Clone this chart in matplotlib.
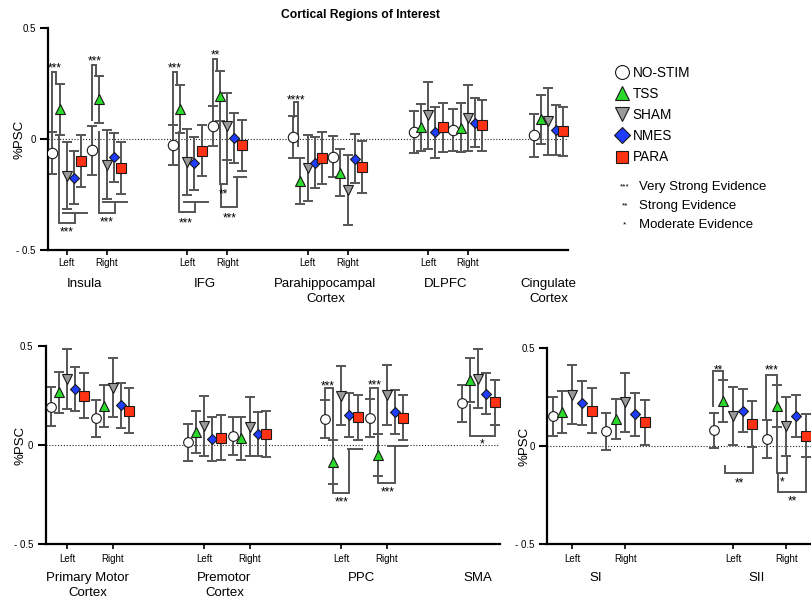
import matplotlib
matplotlib.use('Agg')
import matplotlib.pyplot as plt
from matplotlib.lines import Line2D

plt.rcParams['font.family'] = ['Liberation Sans', 'DejaVu Sans']

CONDITIONS = ['NO-STIM', 'TSS', 'SHAM', 'NMES', 'PARA']
MARKERS = ['o', '^', 'v', 'D', 's']
FACE = ['white', '#2bd92b', '#9a9a9a', '#1f3cff', '#ff3214']
MSIZE = [7.5, 7.7, 7.7, 5.2, 7.3]
LEG_MSIZE = [10, 10, 9.5, 8.5, 9]
ERR_COLOR = '#555555'

REGION_STEP = 16.6
HEMI_STEP = 5.5
FIRST = 2.6

# ---- top panel: Insula, IFG, Parahippocampal, DLPFC (L/R) + Cingulate
top_regions = ['Insula', 'IFG', 'Parahippocampal\nCortex', 'DLPFC', 'Cingulate\nCortex']
top_slots = [(0, 0), (0, 1), (1, 0), (1, 1), (2, 0), (2, 1), (3, 0), (3, 1), (4, 0)]
top_mean = [
    [-0.063, -0.051, -0.029, 0.057, 0.009, -0.079, 0.032, 0.042, 0.017],   # NO-STIM
    [0.133, 0.178, 0.136, 0.193, -0.189, -0.151, 0.053, 0.050, 0.088],     # TSS
    [-0.165, -0.116, -0.104, 0.057, -0.131, -0.230, 0.107, 0.095, 0.080],  # SHAM
    [-0.174, -0.083, -0.109, 0.005, -0.106, -0.089, 0.030, 0.073, 0.042],  # NMES
    [-0.100, -0.131, -0.053, -0.029, -0.086, -0.127, 0.053, 0.062, 0.035], # PARA
]
top_err = [
    [0.095, 0.110, 0.090, 0.090, 0.093, 0.093, 0.094, 0.094, 0.097],
    [0.113, 0.108, 0.108, 0.113, 0.104, 0.106, 0.105, 0.110, 0.110],
    [0.152, 0.155, 0.150, 0.150, 0.150, 0.157, 0.150, 0.148, 0.150],
    [0.120, 0.112, 0.120, 0.112, 0.113, 0.110, 0.115, 0.110, 0.113],
    [0.118, 0.118, 0.115, 0.116, 0.116, 0.116, 0.110, 0.115, 0.110],
]
# (group, bracket path [(column, y)], extra bar or None, stars, star column, star y)
top_sig = [
    (0, [(0, 0.034), (0, 0.30), (0.55, 0.30), (0.55, 0.246)], None, '***', 0.3, 0.335),
    (0, [(0.9, 0.02), (0.9, -0.377), (3.1, -0.377), (3.1, -0.334)], [(1.5, -0.334), (4.8, -0.334)], '***', 2.0, -0.406),
    (1, [(0, 0.087), (0, 0.332), (0.55, 0.332), (0.55, 0.286)], None, '***', 0.3, 0.365),
    (1, [(0.9, 0.03), (0.9, -0.334), (3.1, -0.334), (3.1, -0.284)], [(1.5, -0.284), (4.8, -0.284)], '***', 2.0, -0.36),
    (2, [(0, 0.06), (0, 0.30), (0.55, 0.30), (0.55, 0.245)], None, '***', 0.3, 0.335),
    (2, [(0.9, 0.03), (0.9, -0.327), (3.1, -0.327), (3.1, -0.285)], [(1.5, -0.285), (4.8, -0.285)], '***', 1.8, -0.365),
    (3, [(0, 0.148), (0, 0.362), (0.55, 0.362), (0.55, 0.306)], None, '**', 0.4, 0.39),
    (3, [(1, 0.08), (1, -0.203), (2, -0.203), (2, -0.10)], None, '**', 1.5, -0.235),
    (3, [(1.2, -0.203), (1.2, -0.305), (3.4, -0.305), (3.4, -0.17)], [(2.9, -0.17), (4.6, -0.17)], '***', 2.4, -0.34),
    (4, [(0.1, 0.10), (0.1, 0.166), (0.65, 0.166), (0.65, -0.03)], None, '****', 0.35, 0.19),
]

# ---- bottom left: Primary Motor, Premotor, PPC (L/R) + SMA
bl_regions = ['Primary Motor\nCortex', 'Premotor\nCortex', 'PPC', 'SMA']
bl_slots = [(0, 0), (0, 1), (1, 0), (1, 1), (2, 0), (2, 1), (3, 0)]
bl_mean = [
    [0.194, 0.135, 0.013, 0.046, 0.132, 0.138, 0.210],
    [0.266, 0.197, 0.065, 0.034, -0.087, -0.050, 0.328],
    [0.334, 0.290, 0.097, 0.093, 0.249, 0.252, 0.336],
    [0.283, 0.200, 0.031, 0.056, 0.151, 0.168, 0.260],
    [0.250, 0.174, 0.038, 0.056, 0.140, 0.138, 0.215],
]
bl_err = [
    [0.100, 0.092, 0.095, 0.095, 0.094, 0.095, 0.095],
    [0.105, 0.107, 0.105, 0.108, 0.110, 0.105, 0.110],
    [0.150, 0.150, 0.150, 0.150, 0.150, 0.150, 0.150],
    [0.110, 0.115, 0.110, 0.113, 0.110, 0.110, 0.105],
    [0.115, 0.115, 0.115, 0.115, 0.115, 0.115, 0.115],
]
bl_sig = [
    (4, [(0, 0.228), (0, 0.287), (1, 0.287), (1, 0.03)], None, '***', 0.4, 0.312),
    (4, [(1, -0.197), (1, -0.243), (3, -0.243), (3, -0.018)], [(2.8, -0.018), (4.5, -0.018)], '***', 2.0, -0.272),
    (5, [(0, 0.236), (0, 0.29), (1, 0.29), (1, 0.055)], None, '***', 0.5, 0.32),
    (5, [(1, -0.155), (1, -0.192), (3, -0.192), (3, -0.007)], [(2.2, -0.007), (4.5, -0.007)], '***', 2.1, -0.222),
    (6, [(1, 0.20), (1, 0.045), (4, 0.045), (4, 0.09)], None, '*', 2.5, 0.02),
]

# ---- bottom right: SI, SII (L/R)
br_regions = ['SI', 'SII']
br_slots = [(0, 0), (0, 1), (1, 0), (1, 1)]
br_mean = [
    [0.151, 0.075, 0.080, 0.036],
    [0.172, 0.138, 0.231, 0.206],
    [0.262, 0.223, 0.151, 0.100],
    [0.219, 0.163, 0.180, 0.151],
    [0.180, 0.121, 0.112, 0.053],
]
br_err = [
    [0.100, 0.095, 0.090, 0.096],
    [0.107, 0.103, 0.108, 0.107],
    [0.150, 0.150, 0.148, 0.150],
    [0.113, 0.110, 0.110, 0.107],
    [0.116, 0.115, 0.117, 0.110],
]
br_sig = [
    (2, [(-0.1, 0.202), (-0.1, 0.384), (1, 0.384), (1, 0.34)], None, '**', 0.45, 0.405),
    (2, [(1.2, -0.104), (1.2, -0.14), (4.1, -0.14), (4.1, 0.0)], None, '**', 2.65, -0.172),
    (3, [(-0.1, 0.134), (-0.1, 0.364), (1, 0.364), (1, 0.321)], None, '***', 0.5, 0.405),
    (3, [(1, 0.10), (1, -0.138), (2.1, -0.138), (2.1, -0.06)], None, '*', 1.6, -0.167),
    (3, [(1.1, -0.138), (1.1, -0.233), (4, -0.233), (4, -0.06)], None, '**', 2.6, -0.265),
]

evidence = ['***', '**', '*']
evidence_text = ['Very Strong Evidence', 'Strong Evidence', 'Moderate Evidence']

fig = plt.figure(figsize=(8.12, 6.04), dpi=100)


def draw_panel(rect, xmax, regions, slots, mean, err, sig, ms_scale, ylab_x, name_off, line_sp, xpad):
    ax = fig.add_axes(rect)
    pos = [FIRST + r * REGION_STEP + h * HEMI_STEP for r, h in slots]
    ax.axhline(0, color='#222222', lw=0.8, ls=(0, (1, 1.6)), zorder=0)

    for k in range(len(CONDITIONS)):
        xs = [p + (k - 2) for p in pos]
        ax.errorbar(xs, mean[k], yerr=err[k], fmt='none', ecolor=ERR_COLOR,
                    elinewidth=1.4, capsize=3.3, capthick=1.4, zorder=2)
    for k in range(len(CONDITIONS)):
        xs = [p + (k - 2) for p in pos]
        ax.plot(xs, mean[k], ls='none', marker=MARKERS[k], ms=MSIZE[k] * ms_scale,
                mfc=FACE[k], mec='#1a1a1a', mew=0.8, zorder=4)

    for g, pts, extra, stars, sc, sy in sig:
        ax.plot([pos[g] + c - 2 for c, y in pts], [y for c, y in pts],
                color=ERR_COLOR, lw=1.4, zorder=1, solid_joinstyle='miter')
        if extra is not None:
            ax.plot([pos[g] + c - 2 for c, y in extra], [y for c, y in extra],
                    color=ERR_COLOR, lw=1.4, zorder=1)
        ax.annotate(stars, (pos[g] + sc - 2, sy), xytext=(0, -2.5), textcoords='offset points',
                    ha='center', va='center', fontsize=8.5)

    # hemisphere ticks and region names
    ticks, tick_labels = [], []
    for r, name in enumerate(regions):
        idx = [i for i, s in enumerate(slots) if s[0] == r]
        if len(idx) == 2:
            ticks += [pos[idx[0]], pos[idx[1]]]
            tick_labels += ['Left', 'Right']
            cx = (pos[idx[0]] + pos[idx[1]]) / 2 - 0.3
        else:
            cx = pos[idx[0]]
        ax.annotate(name, (cx, 0), xycoords=('data', 'axes fraction'), xytext=(0, -name_off),
                    textcoords='offset points', ha='center', va='top', fontsize=9.5,
                    linespacing=line_sp)

    ax.set_xlim(0, xmax)
    ax.set_ylim(-0.5, 0.5)
    ax.set_xticks(ticks)
    ax.set_xticklabels(tick_labels)
    ax.set_yticks([-0.5, 0, 0.5])
    ax.set_yticklabels(['- 0.5', '0', '0.5'])
    ax.tick_params(axis='y', length=5.8, width=1.5, pad=3, labelsize=7)
    ax.tick_params(axis='x', length=3.5, width=1.2, pad=xpad, labelsize=7)
    for side in ['top', 'right']:
        ax.spines[side].set_visible(False)
    for side in ['left', 'bottom']:
        ax.spines[side].set_linewidth(1.6)
    ax.set_ylabel('%PSC', fontsize=9.5)
    ax.yaxis.set_label_coords(ylab_x, 0.5)
    return ax


draw_panel([0.0591, 0.5861, 0.6404, 0.3675], 71.7, top_regions, top_slots,
           top_mean, top_err, top_sig, 1.0, -0.044, 20.5, 1.3, 2.5)
draw_panel([0.0563, 0.0993, 0.5591, 0.3278], 55.0, bl_regions, bl_slots,
           bl_mean, bl_err, bl_sig, 0.93, -0.043, 20.0, 1.4, 4.0)
draw_panel([0.6736, 0.0993, 0.4631, 0.3245], 38.8, br_regions, br_slots,
           br_mean, br_err, br_sig, 0.93, -0.045, 20.0, 1.4, 4.0)

fig.text(360 / 812, 1 - 15 / 604, 'Cortical Regions of Interest', ha='center', va='center',
         fontsize=8.7, fontweight='bold')

handles = [Line2D([], [], ls='none', marker=MARKERS[k], ms=LEG_MSIZE[k], mfc=FACE[k],
                  mec='#1a1a1a', mew=0.8) for k in range(len(CONDITIONS))]
fig.legend(handles, CONDITIONS, loc='upper left', bbox_to_anchor=(615 / 812, 1 - 66 / 604),
           frameon=False, fontsize=9.8, labelspacing=0.52, handlelength=1.0,
           handletextpad=0.3, borderaxespad=0, borderpad=0)

for i, (st, txt) in enumerate(zip(evidence, evidence_text)):
    y = 1 - (187 + 19 * i) / 604
    fig.text(625 / 812, y, st, ha='center', va='center', fontsize=6)
    fig.text(639 / 812, y, txt, ha='left', va='center', fontsize=9.5)

fig.savefig('out.png', dpi=100)
